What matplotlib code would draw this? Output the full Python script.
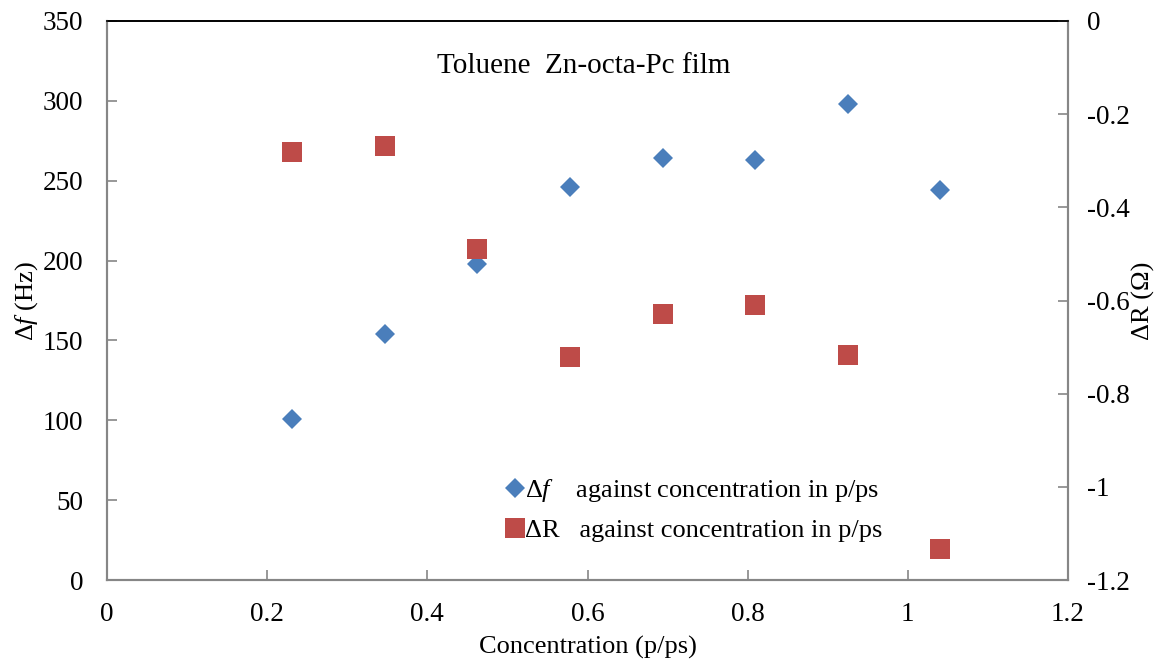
import matplotlib
matplotlib.use("Agg")
import matplotlib.pyplot as plt

# data
concentration = [0.231, 0.347, 0.462, 0.578, 0.694, 0.809, 0.925, 1.040]
delta_f = [101, 154, 198, 246, 264, 263, 298, 244]
delta_R = [-0.281, -0.268, -0.489, -0.721, -0.629, -0.610, -0.717, -1.133]
x_ticks = [0, 0.2, 0.4, 0.6, 0.8, 1, 1.2]
x_tick_labels = ["0", "0.2", "0.4", "0.6", "0.8", "1", "1.2"]
yl_ticks = [0, 50, 100, 150, 200, 250, 300, 350]
yr_ticks = [0, -0.2, -0.4, -0.6, -0.8, -1, -1.2]
yr_tick_labels = ["0", "-0.2", "-0.4", "-0.6", "-0.8", "-1", "-1.2"]

plt.rcParams['font.family'] = ['Liberation Serif', 'DejaVu Serif']
plt.rcParams['mathtext.fontset'] = 'custom'
plt.rcParams['mathtext.rm'] = 'Liberation Serif'
plt.rcParams['mathtext.it'] = 'Liberation Serif:italic'

blue = '#4A7EBB'
red = '#BE4B48'
gray = '#868686'
fs_tick = 19.5
fs_label = 19
fs_title = 21
fs_leg = 19

fig = plt.figure(figsize=(11.65, 6.6), dpi=100)
ax = fig.add_axes([107/1165, 1-580/660, (1068-107)/1165, (580-21)/660])
ax2 = ax.twinx()

h1, = ax.plot(concentration, delta_f, linestyle='none', marker='D', ms=10.5,
              color=blue, markeredgewidth=0, label=r"Δ$f$    against concentration in p/ps")
h2, = ax2.plot(concentration, delta_R, linestyle='none', marker='s', ms=15,
               color=red, markeredgewidth=0, label="ΔR   against concentration in p/ps")

ax.set_xlim(0, 1.2)
ax.set_ylim(0, 350)
ax2.set_ylim(-1.2, 0)
ax.set_xticks(x_ticks)
ax.set_xticklabels(x_tick_labels)
ax.set_yticks(yl_ticks)
ax2.set_yticks(yr_ticks)
ax2.set_yticklabels(yr_tick_labels)

for a in (ax, ax2):
    for s in ('left', 'right', 'bottom'):
        a.spines[s].set_color(gray)
        a.spines[s].set_linewidth(1.5)
    a.spines['top'].set_color('black')
    a.spines['top'].set_linewidth(1.2)
    a.tick_params(direction='in', length=7, width=1.2, color=gray, labelsize=fs_tick)

ax.tick_params(axis='x', pad=16)
ax.tick_params(axis='y', pad=17)
ax2.tick_params(axis='y', pad=14)

ax.set_xlabel("Concentration (p/ps)", fontsize=fs_label, labelpad=6)
ax.set_ylabel(r"Δ$f$ (Hz)", fontsize=fs_label, labelpad=2)
ax2.set_ylabel("ΔR (Ω)", fontsize=fs_label, labelpad=1)

ax.text(0.496, 0.92, "Toluene  Zn-octa-Pc film", transform=ax.transAxes,
        ha='center', va='center', fontsize=fs_title)

leg = ax2.legend(handles=[h1, h2], loc='upper left', bbox_to_anchor=(0.416, 0.184),
                 frameon=False, fontsize=fs_leg, handlelength=0.6, handletextpad=0.1,
                 labelspacing=0.55, borderaxespad=0, borderpad=0)

fig.savefig("out.png", dpi=100)
